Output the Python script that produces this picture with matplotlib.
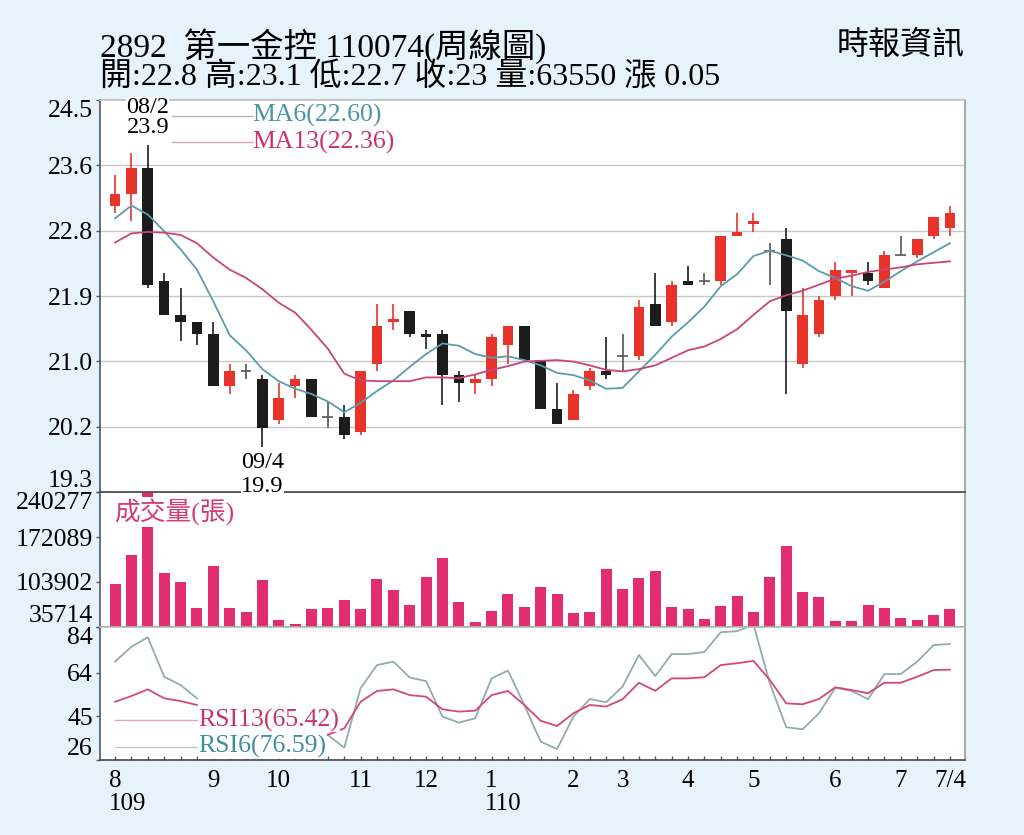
import numpy as np
import matplotlib
matplotlib.use("Agg")
import matplotlib.pyplot as plt

plt.rcParams['font.family'] = ['Liberation Serif', 'Noto Sans CJK TC']

# weekly candles, 2892 第一金控
opens = [23.1, 23.25, 23.6, 22.1, 21.65, 21.55, 21.4, 20.7, 20.9, 20.8,
         20.25, 20.7, 20.8, 20.3, 20.3, 20.1, 21.0, 21.55, 21.7, 21.4,
         21.4, 20.85, 20.75, 20.8, 21.25, 21.5, 21.05, 20.4, 20.25, 20.7,
         20.9, 21.1, 21.1, 21.8, 21.55, 22.1, 22.1, 22.1, 22.7, 22.85,
         22.5, 22.65, 21.0, 21.4, 21.9, 22.2, 22.2, 22.0, 22.45, 22.45,
         22.7, 22.8]
highs = [23.5, 23.8, 23.9, 22.2, 22.0, 21.55, 21.55, 21.0, 21.0, 20.85,
         20.75, 20.85, 20.8, 20.5, 20.45, 20.9, 21.8, 21.8, 21.7, 21.45,
         21.45, 20.9, 20.85, 21.4, 21.5, 21.5, 21.05, 20.75, 20.65, 20.95,
         21.35, 21.4, 21.85, 22.2, 22.1, 22.3, 22.2, 22.7, 23.0, 23.0,
         22.6, 22.8, 22.0, 21.9, 22.35, 22.25, 22.35, 22.5, 22.7, 22.65,
         22.95, 23.1]
lows = [23.0, 22.9, 22.0, 21.65, 21.3, 21.25, 20.7, 20.6, 20.8, 19.9,
        20.2, 20.55, 20.3, 20.15, 20.0, 20.05, 20.9, 21.45, 21.35, 21.2,
        20.45, 20.5, 20.6, 20.7, 21.0, 21.05, 20.4, 20.2, 20.25, 20.65,
        20.8, 20.9, 21.05, 21.5, 21.5, 22.05, 22.05, 22.05, 22.7, 22.75,
        22.05, 20.6, 20.95, 21.35, 21.85, 21.9, 22.05, 22.0, 22.45, 22.4,
        22.65, 22.7]
closes = [23.25, 23.6, 22.05, 21.65, 21.55, 21.4, 20.7, 20.9, 20.9, 20.15,
          20.55, 20.8, 20.3, 20.3, 20.05, 20.9, 21.5, 21.6, 21.4, 21.35,
          20.85, 20.75, 20.8, 21.35, 21.5, 21.05, 20.4, 20.2, 20.6, 20.9,
          20.85, 21.1, 21.75, 21.5, 22.05, 22.05, 22.1, 22.7, 22.75, 22.9,
          22.5, 21.7, 21.65, 21.85, 22.25, 22.25, 22.1, 22.45, 22.45, 22.65,
          22.95, 23.0]

ma6 = [22.93, 23.10, 22.98, 22.76, 22.52, 22.25, 21.83, 21.38, 21.18, 20.93,
       20.77, 20.67, 20.60, 20.50, 20.36, 20.48, 20.64, 20.78, 20.96, 21.13,
       21.27, 21.24, 21.13, 21.08, 21.10, 21.05, 20.98, 20.88, 20.85, 20.78,
       20.67, 20.68, 20.90, 21.12, 21.36, 21.55, 21.76, 22.03, 22.19, 22.43,
       22.50, 22.44, 22.37, 22.23, 22.14, 22.03, 21.97, 22.09, 22.23, 22.36,
       22.48, 22.60]
ma13 = [22.61, 22.73, 22.75, 22.74, 22.71, 22.60, 22.41, 22.25, 22.14, 21.99,
        21.81, 21.68, 21.45, 21.20, 20.87, 20.78, 20.77, 20.77, 20.77, 20.82,
        20.82, 20.81, 20.86, 20.92, 20.97, 21.03, 21.04, 21.05, 21.03, 20.98,
        20.92, 20.90, 20.93, 20.98, 21.08, 21.18, 21.23, 21.33, 21.46, 21.65,
        21.83, 21.91, 21.97, 22.05, 22.13, 22.17, 22.22, 22.25, 22.28, 22.32,
        22.34, 22.36]

volume = [100400, 144800, 240277, 117000, 103400, 64000, 128600, 64000, 58900, 107400,
          46300, 39700, 62500, 65000, 76600, 62500, 108000, 91800, 69000, 112000,
          139800, 74100, 43800, 60400, 85700, 65500, 95800, 85700, 56400, 57900,
          123600, 93300, 110400, 121000, 66500, 63000, 47800, 68000, 83100, 58400,
          111000, 158900, 88200, 80700, 44800, 44800, 69000, 65000, 48800, 46300,
          53900, 63550]

nan = np.nan
rsi6 = [68.9, 75.4, 79.5, 62.3, 58.7, 52.9, nan, nan, nan, nan,
        nan, nan, nan, 36.9, 31.4, 57.3, 67.4, 68.9, 62.0, 60.4,
        44.9, 42.3, 44.2, 61.6, 65.0, 50.0, 34.0, 30.8, 44.9, 52.6,
        51.2, 58.0, 71.8, 62.6, 72.2, 72.2, 73.1, 81.7, 82.2, 85.0,
        59.4, 40.3, 39.4, 46.4, 57.5, 56.1, 52.5, 63.5, 63.5, 68.9,
        76.1, 76.59]
rsi13 = [51.4, 53.9, 56.8, 52.9, 51.7, 50.0, nan, nan, nan, nan,
         nan, nan, nan, 37.0, 39.8, 51.4, 56.1, 56.8, 54.3, 53.6,
         48.1, 47.1, 47.5, 54.3, 56.1, 50.0, 43.1, 40.8, 46.4, 50.0,
         49.3, 52.5, 59.7, 56.2, 61.6, 61.6, 62.1, 67.4, 68.2, 69.2,
         60.9, 50.7, 50.3, 52.6, 57.7, 56.5, 55.1, 59.7, 59.7, 62.3,
         65.2, 65.42]

month_pos = [0, 6, 10, 15, 19, 23, 28, 31, 35, 39, 44, 48, 51]
month_lbl = ['8', '9', '10', '11', '12', '1', '2', '3', '4', '5', '6', '7', '7/4']

bg = '#e7f3fa'
red = '#e8332b'
blk = '#1c1c1c'
pink = '#e22d70'
c_ma6 = '#5b9bab'
c_ma13 = '#c8457b'
c_r6 = '#93abab'
c_r13 = '#d4477d'

x = np.arange(len(closes))
xlim = (-0.92, len(closes) - 0.08)

fig = plt.figure(figsize=(10.24, 8.35), dpi=100)
fig.patch.set_facecolor(bg)

L, W = 100 / 1024, 865 / 1024
ax_p = fig.add_axes([L, 1 - 492 / 835, W, 392 / 835])
ax_v = fig.add_axes([L, 1 - 627 / 835, W, 135 / 835])
ax_r = fig.add_axes([L, 1 - 760 / 835, W, 133 / 835])
ax_p.set_zorder(3)

for ax in (ax_p, ax_v, ax_r):
    ax.set_xlim(*xlim)
    ax.set_facecolor('white')
    ax.tick_params(axis='y', labelsize=18.5, length=3, width=1, pad=2, color='#555')
    ax.spines['left'].set_color('#555')
    ax.spines['right'].set_color('#999')
    ax.spines['top'].set_color('#bbb')
    ax.spines['bottom'].set_color('#444')
    for s in ax.spines.values():
        s.set_linewidth(1.2)

# ---- price panel ----
ax_p.set_ylim(19.3, 24.5)
pt = np.linspace(19.3, 24.5, 7)
ax_p.set_yticks(pt)
ax_p.set_yticklabels(['%.1f' % v for v in pt])
for v in pt[1:-1]:
    ax_p.axhline(v, color='#c9c9c9', lw=1, zorder=0)
ax_p.set_xticks([])

for i in range(len(closes)):
    o, h, l, c = opens[i], highs[i], lows[i], closes[i]
    if c > o:
        col = red
    elif c < o:
        col = blk
    else:
        col = '#555555'
    ax_p.vlines(i, l, h, color=col, lw=1.2, zorder=2)
    if c == o:
        ax_p.hlines(c, i - 0.33, i + 0.33, color=col, lw=1.2, zorder=2)
    else:
        ax_p.bar(i, abs(c - o), bottom=min(o, c), width=0.65, color=col, zorder=2)

ax_p.plot(x, ma6, color=c_ma6, lw=1.3, zorder=3)
ax_p.plot(x, ma13, color=c_ma13, lw=1.3, zorder=3)

ax_p.plot([3.5, 8.4], [24.29, 24.29], color='#b5b5b5', lw=1)
ax_p.plot([3.5, 8.4], [23.94, 23.94], color='#d8a3b8', lw=1)
ax_p.text(8.4, 24.29, 'MA6(22.60)', color='#4a93a6', fontsize=18.5, va='center', ha='left')
ax_p.text(8.4, 23.94, 'MA13(22.36)', color='#c9336b', fontsize=18.5, va='center', ha='left')

box = dict(facecolor='white', edgecolor='none', pad=0)
ax_p.text(2, 24.40, '08/2', fontsize=17.5, ha='center', va='center', bbox=box, clip_on=False, zorder=5)
ax_p.text(2, 24.14, '23.9', fontsize=17.5, ha='center', va='center', zorder=5)
ax_p.text(9, 19.69, '09/4', fontsize=17.5, ha='center', va='center', zorder=5)
ax_p.text(9, 19.37, '19.9', fontsize=17.5, ha='center', va='center', bbox=box, clip_on=False, zorder=5)

# ---- volume panel ----
vt = [35714, 103902, 172089, 240277]
ax_v.bar(x, volume, width=0.67, color=pink, zorder=2)
ax_v.set_ylim(vt[0], vt[-1])
ax_v.set_yticks(vt)
ax_v.set_yticklabels([str(v) for v in vt])
ax_v.set_xticks([])
ax_v.text(-0.05, 0.85, '成交量(張)', transform=ax_v.get_xaxis_transform(), color='#d63a72',
          fontsize=18.5, ha='left', va='center', zorder=5,
          bbox=dict(facecolor='white', edgecolor='none', pad=1))

# ---- RSI panel ----
ax_r.set_ylim(26, 84)
ax_r.set_yticks([26, 45, 64, 84])
ax_r.set_yticklabels(['26', '45', '64', '84'])
ax_r.plot(x, rsi6, color=c_r6, lw=1.3, zorder=2)
ax_r.plot(x, rsi13, color=c_r13, lw=1.3, zorder=2)
ax_r.plot([0, 5.1], [43.4, 43.4], color='#e0a5bb', lw=1, zorder=4)
ax_r.plot([0, 5.1], [31.7, 31.7], color='#c8c8c8', lw=1, zorder=4)
ax_r.text(5.1, 43.4, 'RSI13(65.42)', color='#c9336b', fontsize=18.5, ha='left', va='center',
          zorder=5, bbox=dict(facecolor='white', edgecolor='none', pad=0.5))
ax_r.text(5.1, 31.7, 'RSI6(76.59)', color='#3f8ea0', fontsize=18.5, ha='left', va='center',
          zorder=5, bbox=dict(facecolor='white', edgecolor='none', pad=0.5))

ax_r.set_xticks(month_pos)
ax_r.set_xticklabels(month_lbl)
ax_r.set_xticks(x, minor=True)
ax_r.tick_params(axis='x', which='both', direction='in', length=3, width=1, color='#555',
                 labelsize=18, pad=7)
ax_r.text(-0.4, -0.33, '109', transform=ax_r.get_xaxis_transform(), fontsize=18, ha='left', va='center')
ax_r.text(22.6, -0.33, '110', transform=ax_r.get_xaxis_transform(), fontsize=18, ha='left', va='center')

# shift edge tick labels inward like the original
for ax in (ax_p, ax_v, ax_r):
    labs = ax.get_yticklabels()
    labs[0].set_va('bottom')
    labs[-1].set_va('top')

# ---- header ----
fig.text(100 / 1024, 1 - 46 / 835, '2892  第一金控 110074(周線圖)', fontsize=24, ha='left', va='center')
fig.text(100 / 1024, 1 - 78 / 835, '開:22.8 高:23.1 低:22.7 收:23 量:63550 漲 0.05',
         fontsize=23, ha='left', va='center')
fig.text(965 / 1024, 1 - 46 / 835, '時報資訊', fontsize=23, ha='right', va='center')

fig.savefig('out.png', dpi=100, facecolor=bg)
